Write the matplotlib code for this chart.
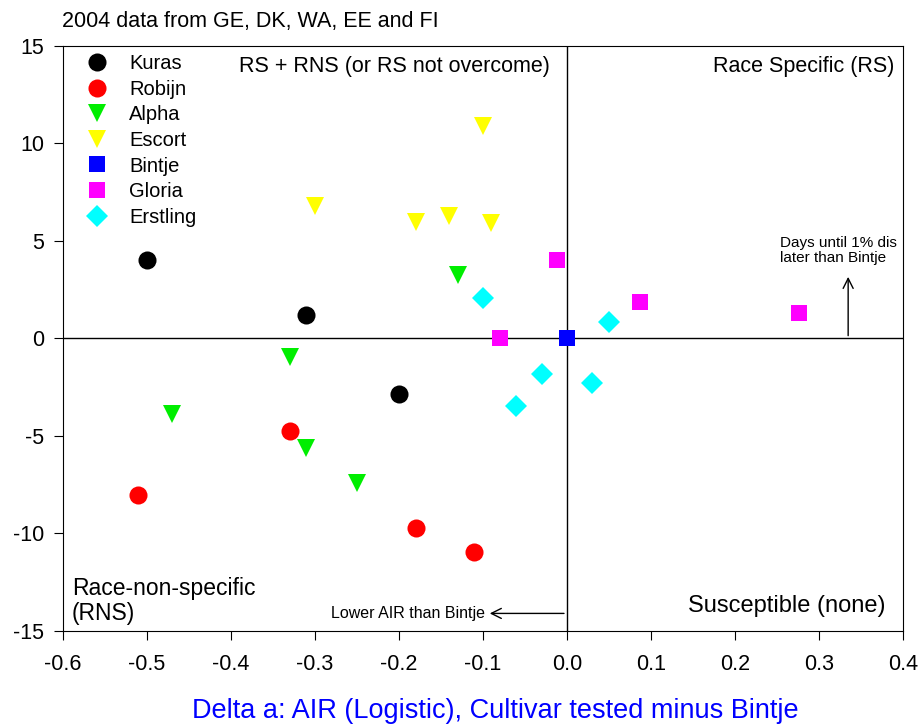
import matplotlib
matplotlib.use("Agg")
import matplotlib.pyplot as plt

plt.rcParams['font.family'] = ['Liberation Sans', 'DejaVu Sans']
plt.rcParams['axes.unicode_minus'] = False

# cultivar -> (x, y)
kuras_x = [-0.50, -0.311, -0.20]
kuras_y = [4.0, 1.2, -2.85]
robijn_x = [-0.51, -0.33, -0.18, -0.11]
robijn_y = [-8.05, -4.75, -9.7, -10.95]
alpha_x = [-0.47, -0.33, -0.31, -0.25, -0.13]
alpha_y = [-3.9, -0.95, -5.6, -7.4, 3.25]
escort_x = [-0.30, -0.18, -0.14, -0.10, -0.09]
escort_y = [6.8, 5.95, 6.3, 10.9, 5.9]
bintje_x = [0.0]
bintje_y = [0.0]
gloria_x = [-0.012, -0.08, 0.087, 0.277]
gloria_y = [4.0, 0.0, 1.85, 1.3]
erstling_x = [-0.10, -0.03, -0.06, 0.03, 0.05]
erstling_y = [2.05, -1.8, -3.45, -2.3, 0.85]

series = [
    ("Kuras", kuras_x, kuras_y, "o", "black", 13),
    ("Robijn", robijn_x, robijn_y, "o", "red", 13),
    ("Alpha", alpha_x, alpha_y, "v", "#00ee00", 13),
    ("Escort", escort_x, escort_y, "v", "yellow", 13),
    ("Bintje", bintje_x, bintje_y, "s", "blue", 11),
    ("Gloria", gloria_x, gloria_y, "s", "magenta", 11),
    ("Erstling", erstling_x, erstling_y, "D", "cyan", 11),
]

fig = plt.figure(figsize=(9.24, 7.25), dpi=100)
ax = fig.add_axes([0.068, 0.1297, 0.909, 0.807])

ax.axhline(0, color="black", lw=1, zorder=1)
ax.axvline(0, color="black", lw=1, zorder=1)

for name, xs, ys, m, c, ms in series:
    ax.plot(xs, ys, ls="none", marker=m, color=c, markersize=ms,
            markeredgewidth=0, label=name, zorder=3)

ax.set_xlim(-0.6, 0.4)
ax.set_ylim(-15, 15)
ax.set_xticks([-0.6, -0.5, -0.4, -0.3, -0.2, -0.1, 0.0, 0.1, 0.2, 0.3, 0.4])
ax.set_yticks([-15, -10, -5, 0, 5, 10, 15])
ax.tick_params(direction="out", length=6.5, labelsize=15.5, top=False, right=False)
ax.tick_params(axis="x", pad=10)
ax.tick_params(axis="y", pad=7)

leg = ax.legend(loc="upper left", bbox_to_anchor=(0.012, 1.0), frameon=False,
                fontsize=14.5, handletextpad=0.8, labelspacing=0.33,
                borderaxespad=0.0, markerscale=1.0, handlelength=1.6)

ax.text(-0.02, 13.95, "RS + RNS (or RS not overcome)", ha="right", va="center", fontsize=15.5)
ax.text(0.39, 13.95, "Race Specific (RS)", ha="right", va="center", fontsize=15.5)
ax.text(-0.589, -13.46, "Race-non-specific\n(RNS)", ha="left", va="center", fontsize=16.5,
        linespacing=1.15)
ax.text(0.38, -13.7, "Susceptible (none)", ha="right", va="center", fontsize=17)

ax.annotate("", xy=(0.335, 3.3), xytext=(0.335, 0.0),
            arrowprops=dict(arrowstyle="->", color="black", lw=1, mutation_scale=18))
ax.text(0.254, 4.5, "Days until 1% dis\nlater than Bintje", ha="left", va="center",
        fontsize=11, clip_on=True, linespacing=1.05)

ax.annotate("", xy=(-0.095, -14.1), xytext=(0.0, -14.1),
            arrowprops=dict(arrowstyle="->", color="black", lw=1, mutation_scale=18))
ax.text(-0.097, -14.1, "Lower AIR than Bintje", ha="right", va="center", fontsize=11.5)

fig.text(0.067, 0.971, "2004 data from GE, DK, WA, EE and FI", ha="left", va="center", fontsize=15.5)
fig.text(0.536, 0.009, "Delta a: AIR (Logistic), Cultivar tested minus Bintje", fontsize=19.5,
         color="#0000ff", ha="center", va="baseline")

fig.savefig("out.png", dpi=100)
